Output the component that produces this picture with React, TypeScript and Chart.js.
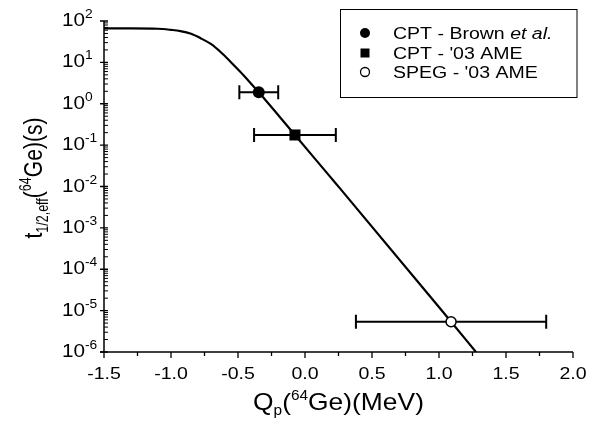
import React, { useEffect, useRef } from 'react';
import { Chart, registerables } from 'chart.js';

Chart.register(...registerables);

// ---- data ----
const curveQ = [-1.5, -1.3, -1.1, -1.0, -0.93, -0.85, -0.78, -0.7, -0.63, -0.56, -0.485, -0.415, -0.345, -0.075, 0.187, 0.261, 1.007, 1.09, 1.276];
const curveT = [66, 66, 65, 61, 57, 49, 38.5, 27.5, 17.8, 10.7, 6.0, 3.4, 1.9, 0.176, 0.0173, 0.009, 1.14e-5, 5.4e-6, 1e-6];

const pointQ = [-0.345, -0.075, 1.09];
const pointT = [1.9, 0.176, 5.4e-6];
const pointQLow = [-0.49, -0.38, 0.38];
const pointQHigh = [-0.2, 0.23, 1.8];

const legendLabels = ['CPT - Brown ', "CPT - '03 AME", "SPEG - '03 AME"];
const legendItalic = ['et al.', '', ''];

const xTickValues = [-1.5, -1.0, -0.5, 0.0, 0.5, 1.0, 1.5, 2.0];
const xMinorValues = [-1.25, -0.75, -0.25, 0.25, 0.75, 1.25, 1.75];
const yTickExponents = [2, 1, 0, -1, -2, -3, -4, -5, -6];

const FONT = '"Liberation Sans", Arial, Helvetica, sans-serif';
const SX = 1.15;

type Part = { t: string; size: number; dy?: number; italic?: boolean };

function fontOf(p: Part) {
  return `${p.italic ? 'italic ' : ''}${p.size}px ${FONT}`;
}

function partsWidth(ctx: CanvasRenderingContext2D, parts: Part[]) {
  let w = 0;
  for (const p of parts) {
    ctx.font = fontOf(p);
    w += ctx.measureText(p.t).width;
  }
  return w;
}

function drawParts(
  ctx: CanvasRenderingContext2D,
  parts: Part[],
  x: number,
  y: number,
  align: 'left' | 'center' | 'right',
  sx: number,
  sy: number,
  rotate = 0
) {
  ctx.save();
  ctx.translate(x, y);
  if (rotate) ctx.rotate(rotate);
  ctx.scale(sx, sy);
  ctx.fillStyle = '#000';
  ctx.textBaseline = 'alphabetic';
  ctx.textAlign = 'left';
  const w = partsWidth(ctx, parts);
  let cx = align === 'center' ? -w / 2 : align === 'right' ? -w : 0;
  for (const p of parts) {
    ctx.font = fontOf(p);
    ctx.fillText(p.t, cx, p.dy || 0);
    cx += ctx.measureText(p.t).width;
  }
  ctx.restore();
}

const errorBarPlugin = {
  id: 'errorBars',
  beforeDatasetsDraw(chart: any) {
    const ctx: CanvasRenderingContext2D = chart.ctx;
    const xs = chart.scales.x;
    const ys = chart.scales.y;
    ctx.save();
    ctx.strokeStyle = '#000';
    ctx.lineWidth = 2;
    for (let i = 0; i < pointQ.length; i++) {
      const py = ys.getPixelForValue(pointT[i]);
      const x1 = xs.getPixelForValue(pointQLow[i]);
      const x2 = xs.getPixelForValue(pointQHigh[i]);
      ctx.beginPath();
      ctx.moveTo(x1, py);
      ctx.lineTo(x2, py);
      ctx.moveTo(x1, py - 7);
      ctx.lineTo(x1, py + 7);
      ctx.moveTo(x2, py - 7);
      ctx.lineTo(x2, py + 7);
      ctx.stroke();
    }
    ctx.restore();
  },
};

const decorPlugin = {
  id: 'decor',
  afterDraw(chart: any) {
    const ctx: CanvasRenderingContext2D = chart.ctx;
    const xs = chart.scales.x;
    const ys = chart.scales.y;
    const a = chart.chartArea;
    ctx.save();
    ctx.strokeStyle = '#000';
    ctx.lineWidth = 1.5;
    // axis lines
    ctx.beginPath();
    ctx.moveTo(a.left, a.top);
    ctx.lineTo(a.left, a.bottom);
    ctx.moveTo(a.left - 4, a.bottom);
    ctx.lineTo(a.right, a.bottom);
    ctx.stroke();

    // x ticks
    ctx.lineWidth = 1.3;
    ctx.beginPath();
    for (const v of xTickValues) {
      const px = xs.getPixelForValue(v);
      ctx.moveTo(px, a.bottom);
      ctx.lineTo(px, a.bottom + 6);
    }
    for (const v of xMinorValues) {
      const px = xs.getPixelForValue(v);
      ctx.moveTo(px, a.bottom);
      ctx.lineTo(px, a.bottom + 4);
    }
    // y ticks
    for (const e of yTickExponents) {
      const py = ys.getPixelForValue(Math.pow(10, e));
      ctx.moveTo(a.left - 4, py);
      ctx.lineTo(a.left + 4, py);
    }
    ctx.stroke();
    ctx.lineWidth = 1;
    ctx.beginPath();
    for (let e = -6; e < 2; e++) {
      for (let m = 2; m <= 9; m++) {
        const py = ys.getPixelForValue(m * Math.pow(10, e));
        ctx.moveTo(a.left, py);
        ctx.lineTo(a.left + 4, py);
      }
    }
    ctx.stroke();

    // x tick labels
    for (const v of xTickValues) {
      const px = xs.getPixelForValue(v);
      drawParts(ctx, [{ t: v.toFixed(1), size: 17 }], px, a.bottom + 27, 'center', SX, 1);
    }
    // y tick labels
    for (const e of yTickExponents) {
      const py = ys.getPixelForValue(Math.pow(10, e));
      drawParts(
        ctx,
        [
          { t: '10', size: 18 },
          { t: String(e), size: 12, dy: -8 },
        ],
        a.left - 42,
        py + 5,
        'left',
        SX,
        1
      );
    }

    // x title
    drawParts(
      ctx,
      [
        { t: 'Q', size: 24 },
        { t: 'p', size: 14, dy: 5 },
        { t: '(', size: 24 },
        { t: '64', size: 14, dy: -10 },
        { t: 'Ge)(MeV)', size: 24 },
      ],
      (a.left + a.right) / 2,
      410,
      'center',
      1.1,
      1
    );
    // y title
    drawParts(
      ctx,
      [
        { t: 't', size: 22 },
        { t: '1/2,eff', size: 13, dy: 5 },
        { t: '(', size: 22 },
        { t: '64', size: 13, dy: -9 },
        { t: 'Ge)(s)', size: 22 },
      ],
      42,
      178,
      'center',
      0.96,
      1.2,
      -Math.PI / 2
    );

    // legend
    const lx = 340.5, ly = 9.5, lw = 236.5, lh = 88;
    ctx.lineWidth = 1;
    ctx.strokeRect(lx, ly, lw, lh);
    const rows = [33, 53, 72];
    for (let i = 0; i < legendLabels.length; i++) {
      const cy = rows[i];
      const mx = 365;
      ctx.fillStyle = '#000';
      ctx.beginPath();
      if (i === 0) {
        ctx.arc(mx, cy, 5, 0, Math.PI * 2);
        ctx.fill();
      } else if (i === 1) {
        ctx.fillRect(mx - 4.5, cy - 4.5, 9, 9);
      } else {
        ctx.arc(mx, cy, 4.5, 0, Math.PI * 2);
        ctx.fillStyle = '#fff';
        ctx.fill();
        ctx.lineWidth = 1.3;
        ctx.stroke();
      }
      const parts: Part[] = [{ t: legendLabels[i], size: 16 }];
      if (legendItalic[i]) parts.push({ t: legendItalic[i], size: 16, italic: true });
      drawParts(ctx, parts, 393, cy + 6, 'left', 1.22, 1);
    }
    ctx.restore();
  },
};

export default function App() {
  const ref = useRef<HTMLCanvasElement | null>(null);
  useEffect(() => {
    if (!ref.current) return;
    const curve = curveQ.map((q, i) => ({ x: q, y: curveT[i] }));
    const chart = new Chart(ref.current, {
      type: 'line',
      data: {
        datasets: [
          {
            label: legendLabels[0] + legendItalic[0],
            data: [{ x: pointQ[0], y: pointT[0] }],
            showLine: false,
            pointStyle: 'circle',
            pointRadius: 6,
            backgroundColor: '#000',
            borderColor: '#000',
            borderWidth: 0,
            order: 0,
          },
          {
            label: legendLabels[1],
            data: [{ x: pointQ[1], y: pointT[1] }],
            showLine: false,
            pointStyle: 'rect',
            pointRadius: 7.8,
            backgroundColor: '#000',
            borderColor: '#000',
            borderWidth: 0,
            order: 0,
          },
          {
            label: legendLabels[2],
            data: [{ x: pointQ[2], y: pointT[2] }],
            showLine: false,
            pointStyle: 'circle',
            pointRadius: 5,
            backgroundColor: '#fff',
            borderColor: '#000',
            borderWidth: 1.5,
            order: 0,
          },
          {
            label: 'curve',
            data: curve,
            borderColor: '#000',
            borderWidth: 2.2,
            pointRadius: 0,
            cubicInterpolationMode: 'monotone',
            fill: false,
            order: 10,
          },
        ],
      } as any,
      options: {
        responsive: false,
        animation: false,
        events: [],
        layout: { padding: { left: 104, right: 24, top: 21, bottom: 72 } },
        scales: {
          x: { type: 'linear', min: -1.5, max: 2, display: false },
          y: { type: 'logarithmic', min: 1e-6, max: 100, display: false },
        },
        plugins: { legend: { display: false }, tooltip: { enabled: false } },
      } as any,
      plugins: [errorBarPlugin, decorPlugin],
    });
    return () => chart.destroy();
  }, []);
  return (
    <div style={{ position: 'fixed', left: 0, top: 0, width: 597, height: 424, background: '#fff' }}>
      <canvas ref={ref} width={597} height={424} style={{ display: 'block' }} />
    </div>
  );
}
